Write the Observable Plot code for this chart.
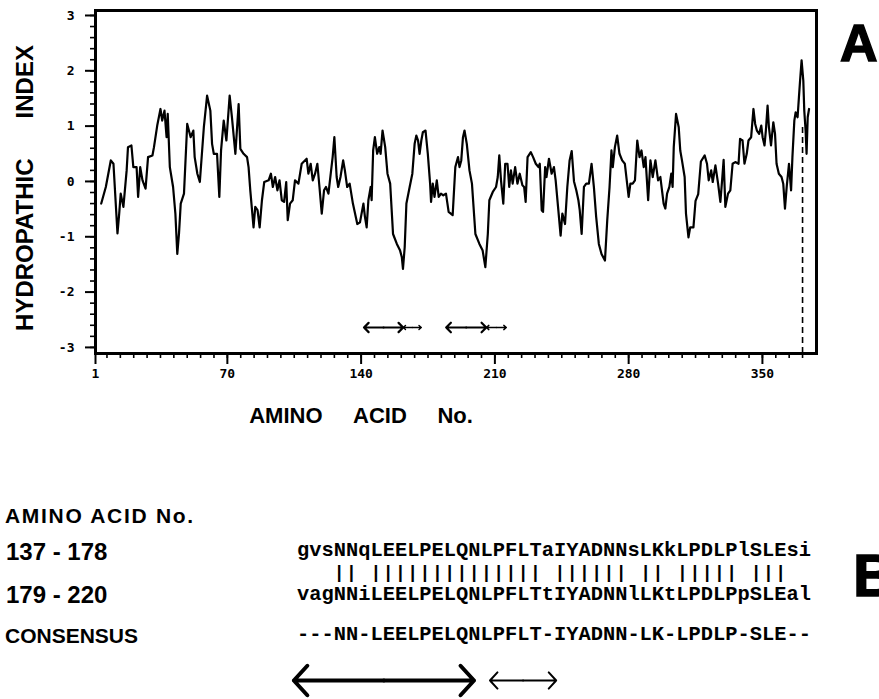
<!DOCTYPE html>
<html>
<head>
<meta charset="utf-8">
<script src="https://cdn.jsdelivr.net/npm/d3@7"></script>
<script src="https://cdn.jsdelivr.net/npm/@observablehq/plot@0.6"></script>
<style>
  html, body { margin: 0; padding: 0; background: #fff; }
  #page { position: relative; width: 879px; height: 699px; overflow: hidden; background: #fff; }
  #chartA { position: absolute; left: 0; top: 0; }
  #chartB { position: absolute; left: 0; top: 660px; }
  .lbl { position: absolute; font-family: "Liberation Sans", Arial, sans-serif; font-weight: bold; line-height: 1; white-space: pre; color: #000; }
  .panel { position: absolute; font-family: "Liberation Sans", Arial, sans-serif; font-weight: bold; line-height: 1; color: #000; -webkit-text-stroke: 1.5px #000; }
  .seq { position: absolute; font-family: "Liberation Mono", "DejaVu Sans Mono", monospace; font-weight: bold; font-size: 20.4px; line-height: 1; white-space: pre; color: #000; }
  .bars { position: absolute; font-family: "Liberation Mono", "DejaVu Sans Mono", monospace; font-weight: bold; font-size: 18px; letter-spacing: 1.46px; line-height: 1; white-space: pre; color: #000; }
</style>
</head>
<body>
<div id="page">
  <div id="chartA"></div>
  <div class="panel" id="labelA" style="left:840px; top:17px; font-size:52px;">A</div>
  <div class="lbl" style="left:5px; top:505px; font-size:21px; letter-spacing:1.7px;">AMINO ACID No.</div>
  <div class="lbl" id="rangeTop" style="left:6px; top:540px; font-size:24px;"></div>
  <div class="lbl" id="rangeBottom" style="left:6px; top:583px; font-size:24px;"></div>
  <div class="lbl" style="left:5px; top:625px; font-size:21px;">CONSENSUS</div>
  <div class="seq" id="seqTop" style="left:297px; top:541px;"></div>
  <div class="bars" id="seqBars" style="left:297px; top:564px;"></div>
  <div class="seq" id="seqBottom" style="left:297px; top:585px;"></div>
  <div class="seq" id="seqCons" style="left:297px; top:625px;"></div>
  <div class="panel" id="labelB" style="left:853px; top:546px; font-size:60px;">B</div>
  <div id="chartB"></div>
</div>
<script>
// ---- Panel A: hydropathy profile (residue number, hydropathic index) ----
const residue = [
  4, 6.4, 9, 10.4, 12.5, 13.4, 14.2, 15.6, 17.3, 18, 19.8, 20.8, 22.5, 23.3, 24.4, 25.6, 27.2, 28.5, 30.8, 31.6,
  33.3, 35, 35.9, 37.1, 38.2, 38.8, 39.9, 41.6, 42.8, 43.8, 44.7, 45.6, 47.3, 49, 50.8, 52.2, 52.9, 54.3, 55.6, 57.7,
  59.4, 61.1, 62, 62.9, 64.6, 65.8, 66.7, 68.1, 69.5, 71.2, 72.4, 74.2, 75.9, 76.8, 78.5, 80.3, 81.1, 82, 83.7, 84.6,
  85.8, 86.9, 88.1, 89.3, 91.6, 92.8, 93.8, 95, 96.2, 97.3, 98.5, 99.7, 100.8, 101.6, 102.8, 104.2, 105.4, 107.2, 108.9, 111.5,
  112.4, 113.6, 114.7, 115.9, 117.1, 118.2, 119.4, 120.6, 121.6, 122.9, 124.1, 125.1, 126, 127.2, 128, 129.2, 130.6, 131.5, 132.7, 134,
  135.7, 138, 139.4, 141.2, 142, 142.9, 143.8, 145, 145.5, 146.3, 147.2, 148.4, 149.5, 150.2, 151.2, 152.6, 153.8, 155.2, 156.7, 158.7,
  160.4, 161.3, 161.9, 162.8, 163.7, 165.4, 166.8, 168, 168.9, 169.8, 170.6, 171.5, 172.3, 173.7, 174.9, 176.1, 176.6, 177.5, 178.4, 179.6,
  180.6, 181.8, 183, 184.4, 185.8, 187.9, 189.3, 190.7, 191.5, 192.4, 193.3, 194.1, 195.3, 196.7, 198, 199.8, 201.9, 203.6, 205, 206.3,
  207.1, 208.9, 210.6, 211.5, 212.3, 213.2, 214.4, 215.4, 216.6, 217.5, 218.4, 219.3, 220.6, 221.8, 223, 224.4, 225.3, 226.1, 227.1, 228.8,
  230, 231.4, 232.8, 233.5, 234.5, 235.2, 236.3, 237, 238.3, 239.7, 240.9, 241.8, 243.2, 244.4, 245.3, 246.7, 247.9, 249.1, 250.2, 251.4,
  252.6, 253.7, 254.4, 255.4, 256.6, 257.8, 259.2, 260.6, 261.8, 263, 264.4, 265.8, 267.6, 268.8, 270, 271, 271.7, 272.8, 274, 275.2,
  276.6, 278, 279.2, 280, 280.9, 282.1, 283.3, 284.5, 285.7, 286.7, 287.9, 288.8, 290.2, 291.4, 292.6, 294, 295.4, 296.6, 298.3, 299.2,
  300.1, 301.3, 302.3, 303, 303.6, 304.8, 306.2, 307, 307.9, 309.3, 310, 311.3, 312.2, 313.9, 315, 316.4, 317.8, 319.8, 321, 321.9,
  323.2, 324, 325.4, 326.8, 328, 328.9, 329.7, 330.6, 332, 333.2, 334.4, 335.8, 337.5, 338.3, 339.6, 340.6, 341.8, 342.7, 344.1, 345.3,
  346.2, 347.1, 348.3, 349.4, 350.1, 351.1, 351.8, 352.7, 353.4, 354.5, 355.7, 356.6, 357.4, 358.6, 360, 360.9, 361.8, 362.7, 363.9, 365,
  365.7, 366.7, 367.4, 368.4, 369.1, 369.7, 370.5, 371.4, 371.9, 372.6, 373.1, 373.7, 374.4
];
const hydropathy = [
  -0.40, -0.10, 0.38, 0.32, -0.94, -0.58, -0.22, -0.46, 0.20, 0.62, 0.65, 0.26, 0.26, -0.28, 0.26, 0.02, -0.13, 0.44, 0.47, 0.62,
  1.01, 1.31, 1.10, 1.28, 0.80, 1.22, 0.26, -0.10, -0.58, -1.31, -0.94, -0.40, -0.22, 1.04, 0.80, 0.92, 0.44, 0.14, -0.01, 0.98,
  1.55, 1.28, 0.68, 0.50, 0.50, -0.28, 0.56, 1.10, 0.74, 1.55, 1.16, 0.50, 1.40, 0.59, 0.50, 0.44, 0.26, -0.16, -0.83, -0.46,
  -0.52, -0.83, -0.34, -0.01, 0.02, 0.14, -0.10, 0.08, -0.16, 0.02, -0.34, -0.37, -0.01, -0.70, -0.40, -0.34, 0.02, -0.04, 0.32, 0.41,
  0.14, 0.32, 0.02, 0.14, 0.32, -0.10, -0.58, -0.16, -0.10, -0.22, 0.14, 0.44, 0.80, 0.08, -0.10, 0.08, 0.38, 0.20, -0.10, -0.04,
  -0.40, -0.77, -0.74, -0.40, -0.64, -0.83, -0.34, -0.10, -0.34, 0.56, 0.80, 0.50, 0.62, 0.50, 0.92, 0.62, 0.14, -0.04, -0.95, -1.13,
  -1.25, -1.37, -1.58, -1.19, -0.40, -0.10, 0.14, 0.68, 0.83, 0.74, 0.50, 0.74, 0.89, 0.92, 0.50, -0.04, -0.37, -0.04, -0.28, 0.02,
  -0.28, -0.22, -0.25, -0.22, -0.55, -0.61, 0.26, 0.44, 0.26, 0.38, 0.80, 0.92, 0.68, 0.20, -0.04, -0.95, -1.13, -1.25, -1.55, -0.95,
  -0.34, -0.19, -0.10, 0.08, 0.47, 0.02, -0.40, 0.32, 0.32, -0.10, 0.20, -0.04, 0.26, -0.04, 0.14, -0.07, -0.10, -0.37, 0.44, 0.53,
  0.44, 0.32, 0.26, 0.32, -0.52, -0.55, 0.26, 0.08, 0.41, 0.14, 0.26, 0.02, -0.52, -0.98, -0.58, -0.77, -0.10, 0.38, 0.55, 0.00,
  -0.16, -0.34, -0.52, -0.95, -0.10, -0.04, -0.04, 0.32, -0.10, -0.64, -1.13, -1.31, -1.43, -0.70, -0.10, 0.56, 0.26, 0.62, 0.83, 0.50,
  0.38, 0.32, -0.04, -0.28, -0.04, -0.04, 0.02, 0.74, 0.44, 0.56, 0.26, 0.44, -0.34, 0.38, 0.08, 0.38, 0.02, 0.08, -0.40, -0.49,
  -0.22, -0.10, 0.14, -0.10, 0.62, 1.22, 0.98, 0.56, 0.38, 0.08, -0.58, -1.01, -0.83, -0.83, -0.35, -0.23, 0.36, 0.47, 0.32, 0.02,
  0.20, -0.01, 0.29, -0.04, -0.37, 0.02, 0.39, -0.46, -0.22, -0.16, 0.32, 0.35, 0.32, 0.77, 0.74, 0.32, 0.50, 0.74, 0.80, 1.31,
  1.04, 0.92, 0.86, 1.01, 0.80, 0.65, 0.92, 1.37, 0.98, 0.65, 1.07, 0.86, 0.32, 0.14, 0.08, -0.04, -0.49, -0.10, 0.32, -0.16,
  0.44, 1.10, 1.25, 1.16, 1.52, 1.82, 2.19, 1.82, 1.28, 0.92, 0.50, 1.16, 1.31
];

const yMajorTicks = [-3, -2, -1, 0, 1, 2, 3];
const yMinorTicks = d3.range(-30, 31, 2).map(d => d / 10);
const xMajorTicks = [1, 70, 140, 210, 280, 350];
const xMinorTicks = d3.range(7, 378, 7);

// repeat arrows under the curve (residue spans)
const repeatFrom = [141.5, 162, 184.5, 205.5];
const repeatTo = [162, 171.5, 205.5, 216];
const repeatKind = ["long", "short", "long", "short"];
const repeatLevel = -2.64;

// dashed marker at the C-terminal region
const cutResidue = [371];
const cutTop = 1.0;

const yTitle = "HYDROPATHIC\u00A0\u00A0\u00A0\u00A0\u00A0\u00A0INDEX";
const xTitle = "AMINO\u00A0\u00A0\u00A0\u00A0\u00A0ACID\u00A0\u00A0\u00A0\u00A0\u00A0No.";

// ---- Panel B: alignment ----
const rangeLabels = ["137 - 178", "179 - 220"];
const seqTop = "gvsNNqLEELPELQNLPFLTaIYADNNsLKkLPDLPlSLEsi";
const seqBottom = "vagNNiLEELPELQNLPFLTtIYADNNlLKtLPDLPpSLEal";
const seqConsensus = "---NN-LEELPELQNLPFLT-IYADNN-LK-LPDLP-SLE--";
// alignment-column spans of the two arrows under the alignment
const alignArrowFrom = [-0.3, 15.7];
const alignArrowTo = [14.4, 21.1];
const alignArrowKind = ["long", "short"];

// ---------- build panel A ----------
const series = residue.map((r, i) => ({r, h: hydropathy[i]}));
const halves = [];
repeatFrom.forEach((f, i) => {
  const m = (f + repeatTo[i]) / 2;
  halves.push({x1: m, x2: f, kind: repeatKind[i]}, {x1: m, x2: repeatTo[i], kind: repeatKind[i]});
});

const chartA = Plot.plot({
  width: 879,
  height: 445,
  marginLeft: 95,
  marginRight: 63,
  marginTop: 10,
  marginBottom: 92,
  x: {domain: [1, 378.3]},
  y: {domain: [-3.11, 3.09]},
  style: {background: "transparent", color: "black", fontFamily: "'DejaVu Sans Mono', monospace"},
  marks: [
    Plot.axisY(yMinorTicks, {anchor: "left", tickSize: 5, strokeWidth: 1.6, tickFormat: () => "", label: null}),
    Plot.axisY(yMajorTicks, {anchor: "left", tickSize: 10, strokeWidth: 2, tickPadding: 11, fontSize: 13, fontWeight: "bold", tickFormat: d => String(d), label: null}),
    Plot.axisX(xMinorTicks, {anchor: "bottom", tickSize: 5, strokeWidth: 1.6, tickFormat: () => "", label: null}),
    Plot.axisX(xMajorTicks, {anchor: "bottom", tickSize: 11, strokeWidth: 2, tickPadding: 4, fontSize: 13, fontWeight: "bold", tickFormat: d => String(d), label: null}),
    Plot.ruleX(cutResidue, {y1: -3.11, y2: cutTop, stroke: "black", strokeWidth: 1.6, strokeDasharray: "6,4"}),
    Plot.line(series, {x: "r", y: "h", stroke: "black", strokeWidth: 2.2}),
    Plot.arrow(halves.filter(d => d.kind === "long"), {x1: "x1", x2: "x2", y1: repeatLevel, y2: repeatLevel, stroke: "black", strokeWidth: 2.2, headLength: 12, headAngle: 90}),
    Plot.arrow(halves.filter(d => d.kind === "short"), {x1: "x1", x2: "x2", y1: repeatLevel, y2: repeatLevel, stroke: "black", strokeWidth: 1.4, headLength: 10, headAngle: 80}),
    Plot.frame({stroke: "black", strokeWidth: 3}),
    Plot.text([yTitle], {text: d => d, frameAnchor: "left", textAnchor: "middle", lineAnchor: "middle", dx: -70, dy: 6, rotate: -90, fontSize: 24, fontWeight: "bold", fontFamily: "'Liberation Sans', Arial, sans-serif"}),
    Plot.text([xTitle], {text: d => d, frameAnchor: "bottom", textAnchor: "middle", lineAnchor: "middle", dx: -95, dy: 62, fontSize: 22, fontWeight: "bold", fontFamily: "'Liberation Sans', Arial, sans-serif"})
  ]
});
document.getElementById("chartA").appendChild(chartA);

// ---------- build panel B ----------
document.getElementById("rangeTop").textContent = rangeLabels[0];
document.getElementById("rangeBottom").textContent = rangeLabels[1];
document.getElementById("seqTop").textContent = seqTop;
document.getElementById("seqBottom").textContent = seqBottom;
document.getElementById("seqCons").textContent = seqConsensus;
const bars = Array.from(seqTop, (c, i) => (c === seqBottom[i] && c === seqConsensus[i]) ? "|" : " ").join("");
document.getElementById("seqBars").textContent = bars;

const alignHalves = [];
alignArrowFrom.forEach((f, i) => {
  const m = (f + alignArrowTo[i]) / 2;
  alignHalves.push({x1: m, x2: f, kind: alignArrowKind[i]}, {x1: m, x2: alignArrowTo[i], kind: alignArrowKind[i]});
});
const chartB = Plot.plot({
  width: 879,
  height: 40,
  margin: 0,
  x: {domain: [0, seqTop.length], range: [297, 297 + 12.26 * seqTop.length]},
  y: {domain: [-1, 1]},
  axis: null,
  style: {background: "transparent"},
  marks: [
    Plot.arrow(alignHalves.filter(d => d.kind === "long"), {x1: "x1", x2: "x2", y1: 0, y2: 0, stroke: "black", strokeWidth: 4, headLength: 7.5, headAngle: 95}),
    Plot.arrow(alignHalves.filter(d => d.kind === "short"), {x1: "x1", x2: "x2", y1: 0, y2: 0, stroke: "black", strokeWidth: 2, headLength: 10, headAngle: 95})
  ]
});
document.getElementById("chartB").appendChild(chartB);
</script>
</body>
</html>
